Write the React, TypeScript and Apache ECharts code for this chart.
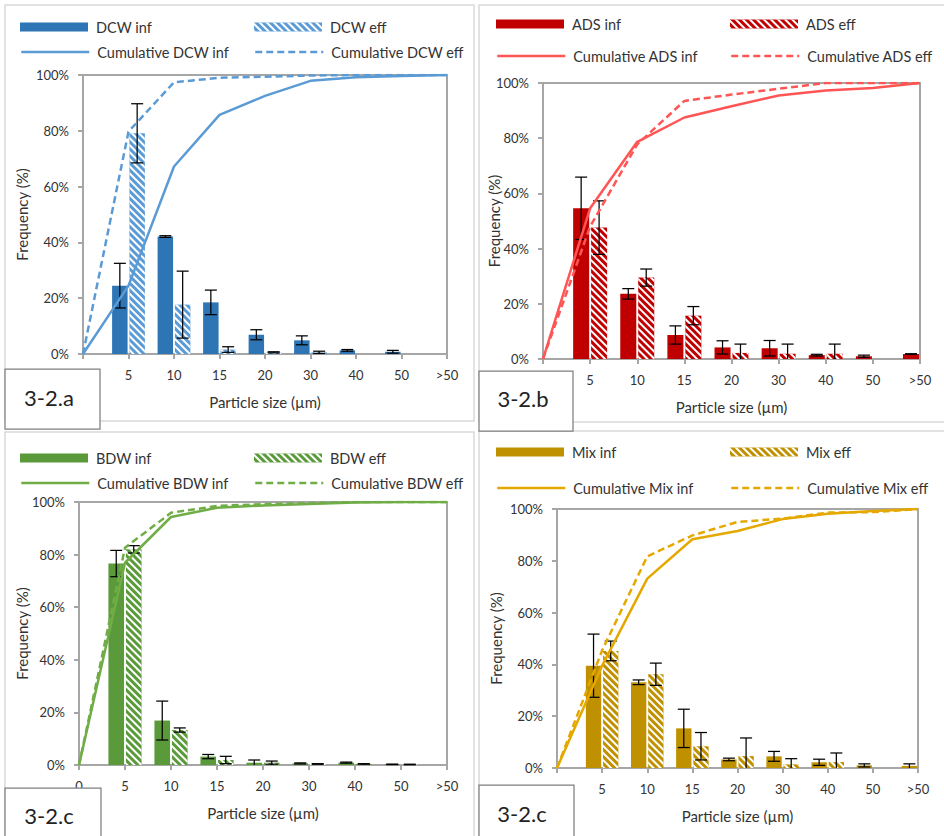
import React, { useEffect, useRef } from 'react';
import * as echarts from 'echarts';

// ---------- data ----------
const sizeLabels = ['', '5', '10', '15', '20', '30', '40', '50', '>50'];
const sizeLabelsC = ['0', '5', '10', '15', '20', '30', '40', '50', '>50'];

const dcwInf = [null, 24.5, 42.1, 18.5, 6.9, 4.9, 1.3, 0.8, 0];
const dcwInfErr = [null, 8, 0.3, 4.4, 1.8, 1.6, 0.3, 0.5, 0];
const dcwEff = [null, 79.1, 17.7, 1.6, 0.6, 0.6, 0, 0, 0];
const dcwEffErr = [null, 10.6, 12, 1, 0.2, 0.4, 0, 0, 0];
const dcwCumInf = [0, 24.5, 67.2, 85.7, 92.5, 97.9, 99.2, 99.6, 100];
const dcwCumEff = [0, 79.7, 97.4, 99.0, 99.4, 99.8, 100, 100, 100];

const adsInf = [null, 54.6, 23.6, 8.7, 4.2, 3.9, 1.4, 1.0, 1.8];
const adsInfErr = [null, 11.3, 1.9, 3.3, 2.4, 2.8, 0.3, 0.4, 0.1];
const adsEff = [null, 47.6, 29.5, 15.7, 2.2, 1.9, 1.9, 0, 0];
const adsEffErr = [null, 9.7, 3.1, 3.3, 3.2, 3.5, 3.5, 0, 0];
const adsCumInf = [0, 54.6, 78.7, 87.5, 91.6, 95.5, 97.3, 98.2, 100];
const adsCumEff = [0, 48.0, 77.8, 93.5, 95.8, 97.9, 100, 100, 100];

const bdwInf = [null, 76.6, 16.9, 3.2, 0.9, 0.6, 0.9, 0.25, 0];
const bdwInfErr = [null, 5, 7.4, 0.8, 1.0, 0.2, 0.2, 0.1, 0];
const bdwEff = [null, 82.0, 13.3, 1.9, 0.9, 0.4, 0.4, 0.2, 0];
const bdwEffErr = [null, 1.4, 0.8, 1.4, 0.6, 0.1, 0.1, 0.1, 0];
const bdwCumInf = [0, 76.9, 94.3, 97.8, 98.7, 99.2, 99.8, 100, 100];
const bdwCumEff = [0, 82.6, 95.9, 98.5, 99.2, 99.6, 100, 100, 100];

const mixInf = [null, 39.5, 33.1, 15.3, 3.3, 4.5, 2.2, 1.0, 0.8];
const mixInfErr = [null, 12.2, 0.9, 7.4, 0.5, 1.9, 1.2, 0.6, 0.8];
const mixEff = [null, 45.2, 36.2, 8.4, 4.6, 1.4, 2.3, 0, 0];
const mixEffErr = [null, 3.8, 4.3, 5.3, 7.0, 2.2, 3.5, 0, 0];
const mixCumInf = [0, 39.5, 73.1, 88.3, 91.5, 96.1, 98.2, 99.2, 100];
const mixCumEff = [0, 45.4, 81.7, 89.8, 95.0, 96.3, 98.6, 98.8, 100];

// ---------- layout / style ----------
const FONT = 'Lato, "Open Sans", sans-serif';
const TXT = '#333333';
const AXIS = '#A6A6A6';
const BAR_W = 0.34;
const BAR_GAP = 0.12;
const OFFSET = (BAR_W * (2 + BAR_GAP)) / 2 - BAR_W / 2;

const panels = [
  {
    key: 'DCW', tag: '3-2.a', cats: sizeLabels,
    inf: dcwInf, infErr: dcwInfErr, eff: dcwEff, effErr: dcwEffErr, cumInf: dcwCumInf, cumEff: dcwCumEff,
    barColor: '#2E75B6', hatchColor: '#5B9BD5', lineColor: '#5B9BD5',
    grid: { left: 83, top: 75, width: 364, height: 279 }, yNameGap: 54,
    legend: { x: 20, x2: 254, y1: 27, y2: 52 },
    frame: { x: 5, y: 5, w: 469, h: 416 },
    box: { x: 5, y: 369, w: 95, h: 60, tx: 49, ty: 397 },
  },
  {
    key: 'ADS', tag: '3-2.b', cats: sizeLabels,
    inf: adsInf, infErr: adsInfErr, eff: adsEff, effErr: adsEffErr, cumInf: adsCumInf, cumEff: adsCumEff,
    barColor: '#C00000', hatchColor: '#C00000', lineColor: '#FF5555',
    grid: { left: 543, top: 83, width: 377, height: 276 }, yNameGap: 42,
    legend: { x: 496, x2: 730, y1: 24, y2: 56 },
    frame: { x: 479, y: 5, w: 480, h: 417 },
    box: { x: 479, y: 371, w: 94, h: 60, tx: 523, ty: 398 },
  },
  {
    key: 'BDW', tag: '3-2.c', cats: sizeLabelsC,
    inf: bdwInf, infErr: bdwInfErr, eff: bdwEff, effErr: bdwEffErr, cumInf: bdwCumInf, cumEff: bdwCumEff,
    barColor: '#5B9A3B', hatchColor: '#5B9A3B', lineColor: '#70AD47',
    grid: { left: 79, top: 502, width: 368, height: 263 }, yNameGap: 50,
    legend: { x: 20, x2: 254, y1: 458, y2: 483 },
    frame: { x: 5, y: 432, w: 469, h: 420 },
    box: { x: 5, y: 788, w: 96, h: 60, tx: 49, ty: 815 },
  },
  {
    key: 'Mix', tag: '3-2.c', cats: sizeLabels,
    inf: mixInf, infErr: mixInfErr, eff: mixEff, effErr: mixEffErr, cumInf: mixCumInf, cumEff: mixCumEff,
    barColor: '#BF9000', hatchColor: '#BF9000', lineColor: '#E5A800',
    grid: { left: 557, top: 509, width: 361, height: 259 }, yNameGap: 54,
    legend: { x: 496, x2: 730, y1: 452, y2: 488 },
    frame: { x: 479, y: 431, w: 480, h: 420 },
    box: { x: 479, y: 785, w: 95, h: 60, tx: 522, ty: 813 },
  },
];

function errorSeries(name: string, idx: number, values: (number | null)[], errs: (number | null)[], side: number) {
  const data = values
    .map((v, i) => (v == null || !errs[i] ? null : [i, v, errs[i]]))
    .filter((d) => d !== null);
  return {
    type: 'custom',
    name,
    xAxisIndex: idx,
    yAxisIndex: idx,
    z: 3,
    silent: true,
    data,
    renderItem: (params: any, api: any) => {
      const i = api.value(0);
      const v = api.value(1);
      const e = api.value(2);
      const band = api.size([1, 0])[0];
      const top = api.coord([i, v + e]);
      const lowV = Math.max(0, v - e);
      const bot = api.coord([i, lowV]);
      const x = top[0] + side * OFFSET * band;
      const half = 6;
      const style = { stroke: '#000000', lineWidth: 1.25 };
      const children: any[] = [
        { type: 'line', shape: { x1: x, y1: top[1], x2: x, y2: bot[1] }, style },
        { type: 'line', shape: { x1: x - half, y1: top[1], x2: x + half, y2: top[1] }, style },
      ];
      if (v - e > 0) {
        children.push({ type: 'line', shape: { x1: x - half, y1: bot[1], x2: x + half, y2: bot[1] }, style });
      }
      return { type: 'group', children };
    },
  };
}

function buildOption() {
  const grid: any[] = [];
  const xAxis: any[] = [];
  const yAxis: any[] = [];
  const series: any[] = [];
  const legend: any[] = [];
  const graphic: any[] = [];

  panels.forEach((p, idx) => {
    grid.push({
      left: p.grid.left, top: p.grid.top, width: p.grid.width, height: p.grid.height,
      show: true, borderColor: AXIS, borderWidth: 2, backgroundColor: 'transparent',
    });
    xAxis.push({
      type: 'category', gridIndex: idx, data: p.cats, boundaryGap: false,
      name: 'Particle size (µm)', nameLocation: 'middle', nameGap: 40, nameMoveOverlap: false,
      nameTextStyle: { fontFamily: FONT, fontSize: 15, color: TXT },
      axisLine: { lineStyle: { color: AXIS, width: 2 } },
      axisTick: { show: true, length: 5, lineStyle: { color: AXIS, width: 2 } },
      axisLabel: { fontFamily: FONT, fontSize: 13, color: TXT, margin: 14, interval: 0 },
      splitLine: { show: false },
    });
    yAxis.push({
      type: 'value', gridIndex: idx, min: 0, max: 100, interval: 20,
      name: 'Frequency (%)', nameLocation: 'middle', nameGap: p.yNameGap, nameRotate: 90,
      nameMoveOverlap: false,
      nameTextStyle: { fontFamily: FONT, fontSize: 15, color: TXT },
      axisLine: { show: true, lineStyle: { color: AXIS, width: 2 } },
      axisTick: { show: true, length: 5, lineStyle: { color: AXIS, width: 2 } },
      axisLabel: { fontFamily: FONT, fontSize: 13, color: TXT, margin: 14, formatter: '{value}%' },
      splitLine: { show: false },
    });

    const nInf = `${p.key} inf`;
    const nEff = `${p.key} eff`;
    const nCInf = `Cumulative ${p.key} inf`;
    const nCEff = `Cumulative ${p.key} eff`;

    series.push({
      type: 'bar', name: nInf, xAxisIndex: idx, yAxisIndex: idx, data: p.inf,
      barWidth: `${BAR_W * 100}%`, barGap: `${BAR_GAP * 100}%`,
      itemStyle: { color: p.barColor },
    });
    series.push({
      type: 'bar', name: nEff, xAxisIndex: idx, yAxisIndex: idx, data: p.eff,
      barWidth: `${BAR_W * 100}%`, barGap: `${BAR_GAP * 100}%`,
      itemStyle: {
        color: p.hatchColor,
        decal: {
          symbol: 'rect', symbolSize: 1, color: '#ffffff',
          dashArrayX: [1, 0], dashArrayY: [1.7, 2.3], rotation: Math.PI / 4,
        },
      },
    });
    series.push(errorSeries(`err ${nInf}`, idx, p.inf, p.infErr, -1));
    series.push(errorSeries(`err ${nEff}`, idx, p.eff, p.effErr, 1));
    series.push({
      type: 'line', name: nCInf, xAxisIndex: idx, yAxisIndex: idx, data: p.cumInf,
      symbol: 'none', z: 4, lineStyle: { color: p.lineColor, width: 2.5, type: 'solid' },
      itemStyle: { color: p.lineColor },
    });
    series.push({
      type: 'line', name: nCEff, xAxisIndex: idx, yAxisIndex: idx, data: p.cumEff,
      symbol: 'none', z: 4, lineStyle: { color: p.lineColor, width: 2.5, type: [7, 4] },
      itemStyle: { color: p.lineColor },
    });

    const legText = { fontFamily: FONT, fontSize: 14.5, color: TXT, lineHeight: 16, padding: [0, 0, 0, 3] };
    const legItems = [
      { name: nInf, x: p.legend.x, y: p.legend.y1, bar: true },
      { name: nEff, x: p.legend.x2, y: p.legend.y1, bar: true },
      { name: nCInf, x: p.legend.x, y: p.legend.y2, bar: false },
      { name: nCEff, x: p.legend.x2, y: p.legend.y2, bar: false },
    ];
    legItems.forEach((li) => {
      const l: any = {
        left: li.x, top: li.y - 8, padding: 0, itemGap: 0, selectedMode: false,
        itemWidth: 68, itemHeight: li.bar ? 9 : 16, data: [li.name], textStyle: legText,
      };
      if (li.bar) {
        l.icon = 'rect';
      } else {
        l.itemStyle = { opacity: 0, borderWidth: 0 };
        l.lineStyle = { width: 2.5 };
      }
      legend.push(l);
    });

    graphic.push({
      type: 'rect', z: -10, silent: true,
      shape: { x: p.frame.x, y: p.frame.y, width: p.frame.w, height: p.frame.h },
      style: { fill: 'none', stroke: '#D9D9D9', lineWidth: 1.5 },
    });
    graphic.push({
      type: 'rect', z: 100, silent: true,
      shape: { x: p.box.x, y: p.box.y, width: p.box.w, height: p.box.h },
      style: { fill: '#ffffff', stroke: '#7F7F7F', lineWidth: 1.25 },
    });
    graphic.push({
      type: 'text', z: 101, silent: true, x: p.box.tx, y: p.box.ty,
      style: {
        text: p.tag, fontFamily: FONT, fontSize: 22, fill: '#222222',
        align: 'center', verticalAlign: 'middle',
      },
    });
  });

  return {
    animation: false,
    backgroundColor: '#ffffff',
    grid, xAxis, yAxis, series, legend, graphic,
  };
}

export default function App() {
  const ref = useRef<HTMLDivElement>(null);
  useEffect(() => {
    if (!ref.current) return;
    const chart = echarts.init(ref.current, undefined, { renderer: 'svg' });
    chart.setOption(buildOption() as any);
    return () => chart.dispose();
  }, []);
  return (
    <div
      ref={ref}
      style={{ position: 'absolute', left: 0, top: 0, width: 944, height: 836, background: '#fff' }}
    />
  );
}
